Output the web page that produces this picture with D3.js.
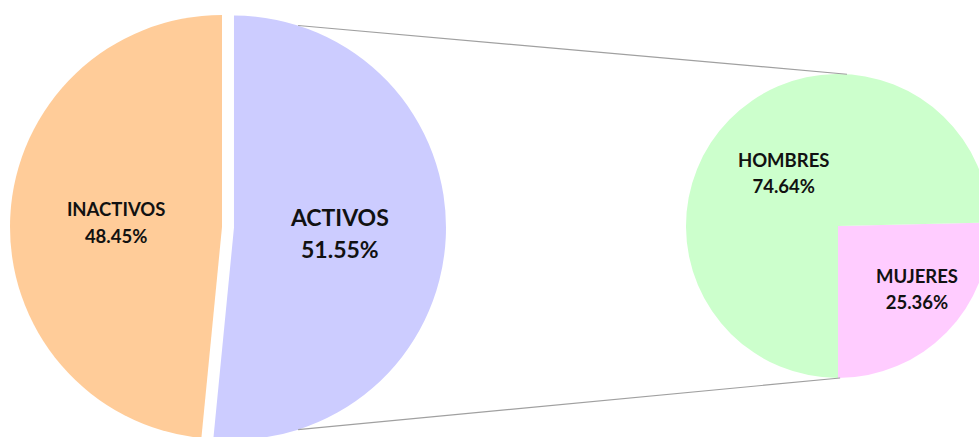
<!DOCTYPE html>
<html>
<head>
<meta charset="utf-8">
<script src="https://cdn.jsdelivr.net/npm/d3@7"></script>
<style>
  html, body { margin: 0; padding: 0; background: #fff; }
  svg { display: block; }
  text { font-family: Lato, "Open Sans", sans-serif; font-weight: bold; fill: #111; }
</style>
</head>
<body>
<svg id="chart" width="979" height="437"></svg>
<script>
// main pie
const mainLabels = ['ACTIVOS', 'INACTIVOS'];
const mainValues = [51.55, 48.45];
const mainColors = ['#CCCCFF', '#FFCC99'];

// secondary pie (split of ACTIVOS)
const subLabels = ['MUJERES', 'HOMBRES'];
const subValues = [25.36, 74.64];
const subColors = ['#FFCCFF', '#CCFFCC'];

const WIDTH = 979, HEIGHT = 437;
const MAIN = {cx: 222, cy: 227, r: 212, explode: 12};
const SUB = {cx: 838, cy: 226, r: 152};

const svg = d3.select('#chart');
const fmt = v => v.toFixed(2) + '%';

// ---- main pie
const mainPie = d3.pie().sort(null).value(d => d)(mainValues);
const mainArc = d3.arc().innerRadius(0).outerRadius(MAIN.r);

const mainG = svg.append('g')
    .attr('transform', `translate(${MAIN.cx}, ${MAIN.cy})`);

// offset of the exploded slice (ACTIVOS) along its bisector
const midA = (mainPie[0].startAngle + mainPie[0].endAngle) / 2;
const [exX, exY] = d3.pointRadial(midA, MAIN.explode);

const mainSlices = mainG.selectAll('g.slice')
    .data(mainPie)
    .join('g')
    .attr('class', 'slice')
    .attr('transform', (d, i) => i === 0 ? `translate(${exX}, ${exY})` : null);

mainSlices.append('path')
    .attr('d', mainArc)
    .attr('fill', (d, i) => mainColors[i]);

mainSlices.each(function(d, i) {
    const [x, y] = mainArc.centroid(d);
    const big = i === 0;
    const g = d3.select(this).append('text')
        .attr('text-anchor', 'middle')
        .style('font-size', big ? '23px' : '18.5px');
    g.append('tspan').attr('x', x).attr('y', y + (big ? -7 : -6)).text(mainLabels[i]);
    g.append('tspan').attr('x', x).attr('y', y + (big ? 25 : 21)).text(fmt(mainValues[i]));
});

// ---- secondary pie
const subStart = Math.PI - 2 * Math.PI * subValues[0] / d3.sum(subValues);
const subPie = d3.pie().sort(null).value(d => d)
    .startAngle(subStart).endAngle(subStart + 2 * Math.PI)(subValues);
const subArc = d3.arc().innerRadius(0).outerRadius(SUB.r);

const subG = svg.append('g')
    .attr('transform', `translate(${SUB.cx}, ${SUB.cy})`);

subG.selectAll('path')
    .data(subPie)
    .join('path')
    .attr('d', subArc)
    .attr('fill', (d, i) => subColors[i]);

// label placement: MUJERES sits further out in the small slice
const subLabelR = [0.665, 0.5];
const subLabelShift = [-0.1, 0];
subG.selectAll('text')
    .data(subPie)
    .join('text')
    .attr('text-anchor', 'middle')
    .style('font-size', '18.5px')
    .each(function(d, i) {
        const a = (d.startAngle + d.endAngle) / 2 + subLabelShift[i];
        const [x, y] = d3.pointRadial(a, SUB.r * subLabelR[i]);
        const t = d3.select(this);
        t.append('tspan').attr('x', x).attr('y', y - 6).text(subLabels[i]);
        t.append('tspan').attr('x', x).attr('y', y + 20).text(fmt(subValues[i]));
    });

// ---- connector lines
const deg = Math.PI / 180;
const p = (c, a, r, off) => {
    const [x, y] = d3.pointRadial(a, r);
    return [c.cx + x + (off ? off[0] : 0), c.cy + y + (off ? off[1] : 0)];
};
const connectors = [
    [p(MAIN, 17.6 * deg, MAIN.r, [exX, exY]), p(SUB, 3.4 * deg, SUB.r)],
    [p(MAIN, 162.4 * deg, MAIN.r, [exX, exY]), p(SUB, 179.2 * deg, SUB.r)]
];
svg.selectAll('line.conn')
    .data(connectors)
    .join('line')
    .attr('class', 'conn')
    .attr('x1', d => d[0][0]).attr('y1', d => d[0][1])
    .attr('x2', d => d[1][0]).attr('y2', d => d[1][1])
    .attr('stroke', '#A0A0A0')
    .attr('stroke-width', 1.2);
</script>
</body>
</html>
